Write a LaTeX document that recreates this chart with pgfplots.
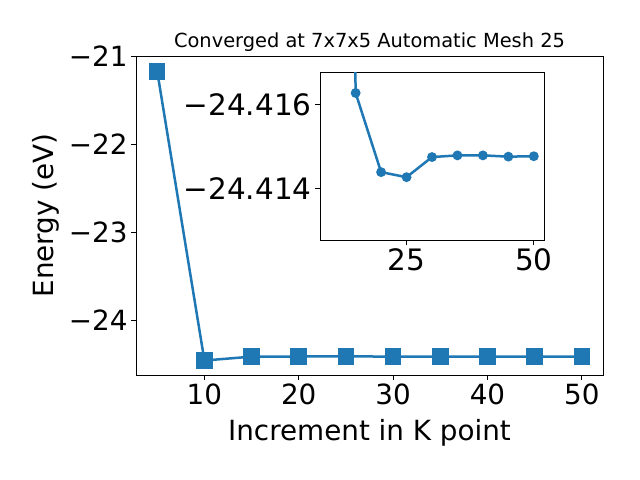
\documentclass[border=0pt]{standalone}
\usepackage{pgfplots}
\pgfplotsset{compat=1.18}
\usepackage{fontspec}
\setmainfont{DejaVu Sans}
\definecolor{mplblue}{HTML}{1F77B4}
\begin{document}
\begin{tikzpicture}[x=1bp,y=1bp]
\path (0,0) rectangle (640,480);
\begin{axis}[at={(136bp,105bp)}, anchor=south west, scale only axis,
  width=467bp, height=319bp,
  xmin=2.75, xmax=52.25, ymin=-24.625, ymax=-20.995,
  xtick={10,20,30,40,50},
  ytick={-24,-23,-22,-21}, yticklabels={−24,−23,−22,−21},
  tick align=outside, major tick length=4.86bp,
  tick style={black, line width=0.8bp}, axis line style={line width=0.8bp},
  xtick pos=bottom, ytick pos=left,
  /pgf/number format/assume math mode=true,
  ticklabel style={font=\fontsize{27.8bp}{33bp}\selectfont},
  xlabel={Increment in K point}, ylabel={Energy (eV)},
  label style={font=\fontsize{27.8bp}{33bp}\selectfont},
  xlabel style={yshift=-8bp},
  ylabel style={yshift=3bp},
  title={Converged at 7x7x5 Automatic Mesh 25},
  title style={font=\fontsize{19.4bp}{23bp}\selectfont, yshift=-5bp},
]
\addplot[mplblue, line width=2.5bp, mark=square*, mark size=7bp] coordinates {
(5,-21.17) (10,-24.46) (15,-24.41627) (20,-24.41438) (25,-24.41426)
(30,-24.41474) (35,-24.41478) (40,-24.41478) (45,-24.41475) (50,-24.41476)};
\end{axis}
\begin{axis}[at={(320bp,240bp)}, anchor=south west, scale only axis,
  width=224bp, height=168bp,
  xmin=8, xmax=52, ymin=-24.41677, ymax=-24.41276, y dir=reverse,
  xtick={25,50}, ytick={-24.416,-24.414}, yticklabels={−24.416,−24.414},
  tick align=outside, major tick length=4.86bp,
  tick style={black, line width=0.8bp}, axis line style={line width=0.8bp},
  xtick pos=bottom, ytick pos=left,
  /pgf/number format/assume math mode=true,
  ticklabel style={font=\fontsize{29.5bp}{35bp}\selectfont},
]
\addplot[mplblue, line width=2.5bp, mark=*, mark size=3.6bp] coordinates {
(10,-24.46) (15,-24.41627) (20,-24.41438) (25,-24.41426)
(30,-24.41474) (35,-24.41478) (40,-24.41478) (45,-24.41475) (50,-24.41476)};
\end{axis}
\end{tikzpicture}
\end{document}
